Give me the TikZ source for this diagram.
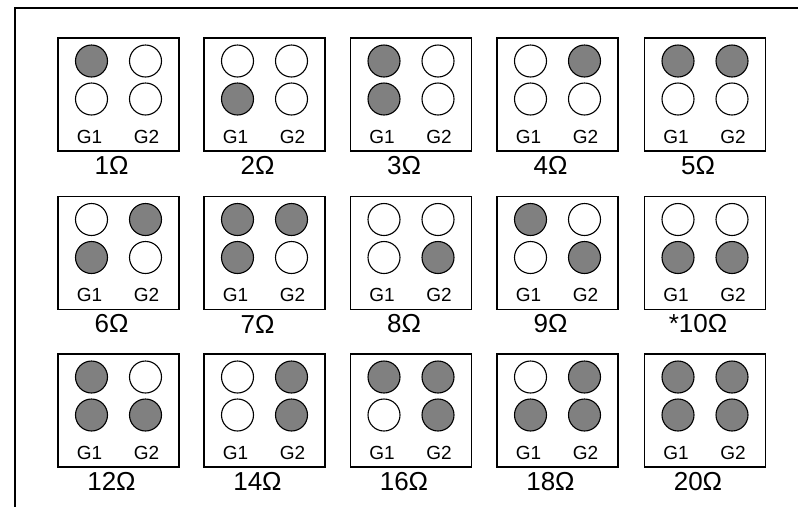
\documentclass[tikz,border=0pt]{standalone}
\usepackage{fontspec}
\setmainfont{Liberation Sans}
\definecolor{pingray}{RGB}{128,128,128}

\begin{document}
\begin{tikzpicture}[
    x=1pt, y=-1pt,
    font=\fontsize{19}{22}\selectfont,
    frame/.style={line width=1.5pt},
    board/.style={draw, line width=1.6pt, minimum width=121pt, minimum height=113pt, inner sep=0pt},
    pin/.style={circle, draw, line width=1.1pt, minimum size=32pt, inner sep=0pt},
    p0/.style={pin, fill=white},
    p1/.style={pin, fill=pingray},
    ohms/.style={font=\fontsize{26}{30}\selectfont, inner sep=0pt}
  ]
  \useasboundingbox (0,0) rectangle (798,507);
  \draw[frame] (798,8) -- (15,8) -- (15,507);

  % one board per setting: number / centre / pins (top left, top right, bottom left, bottom right) / value
  \foreach \n/\bx/\by/\pa/\pb/\pc/\pd/\val in {
      1/118.5/94.5/1/0/0/0/1Ω,    2/264.5/94.5/0/0/1/0/2Ω,
      3/411/94.5/1/0/1/0/3Ω,      4/557.5/94.5/0/1/0/0/4Ω,
      5/705/94.5/1/1/0/0/5Ω,
      6/118.5/253/0/1/1/0/6Ω,     7/264.5/253/1/1/1/0/7Ω,
      8/411/253/0/0/0/1/8Ω,       9/557.5/253/1/0/0/1/9Ω,
      10/705/253/0/0/1/1/*10Ω,
      11/118.5/410.5/1/0/1/1/12Ω, 12/264.5/410.5/0/1/0/1/14Ω,
      13/411/410.5/1/1/0/1/16Ω,   14/557.5/410.5/0/1/1/1/18Ω,
      15/705/410.5/1/1/1/1/20Ω}
  {
    \begin{scope}[shift={(\bx,\by)}]
      \node[board] (board\n) at (0,0) {};
      \node[p\pa] (pin\n a) at (-27,-33.5) {};
      \node[p\pb] (pin\n b) at (27,-33.5) {};
      \node[p\pc] (pin\n c) at (-27,4.5) {};
      \node[p\pd] (pin\n d) at (27,4.5) {};
      \node (gone\n) at (-29,42) {G1};
      \node (gtwo\n) at (28,42) {G2};
      \node[ohms] (val\n) at (-7,71) {\val};
    \end{scope}
  }
\end{tikzpicture}
\end{document}
